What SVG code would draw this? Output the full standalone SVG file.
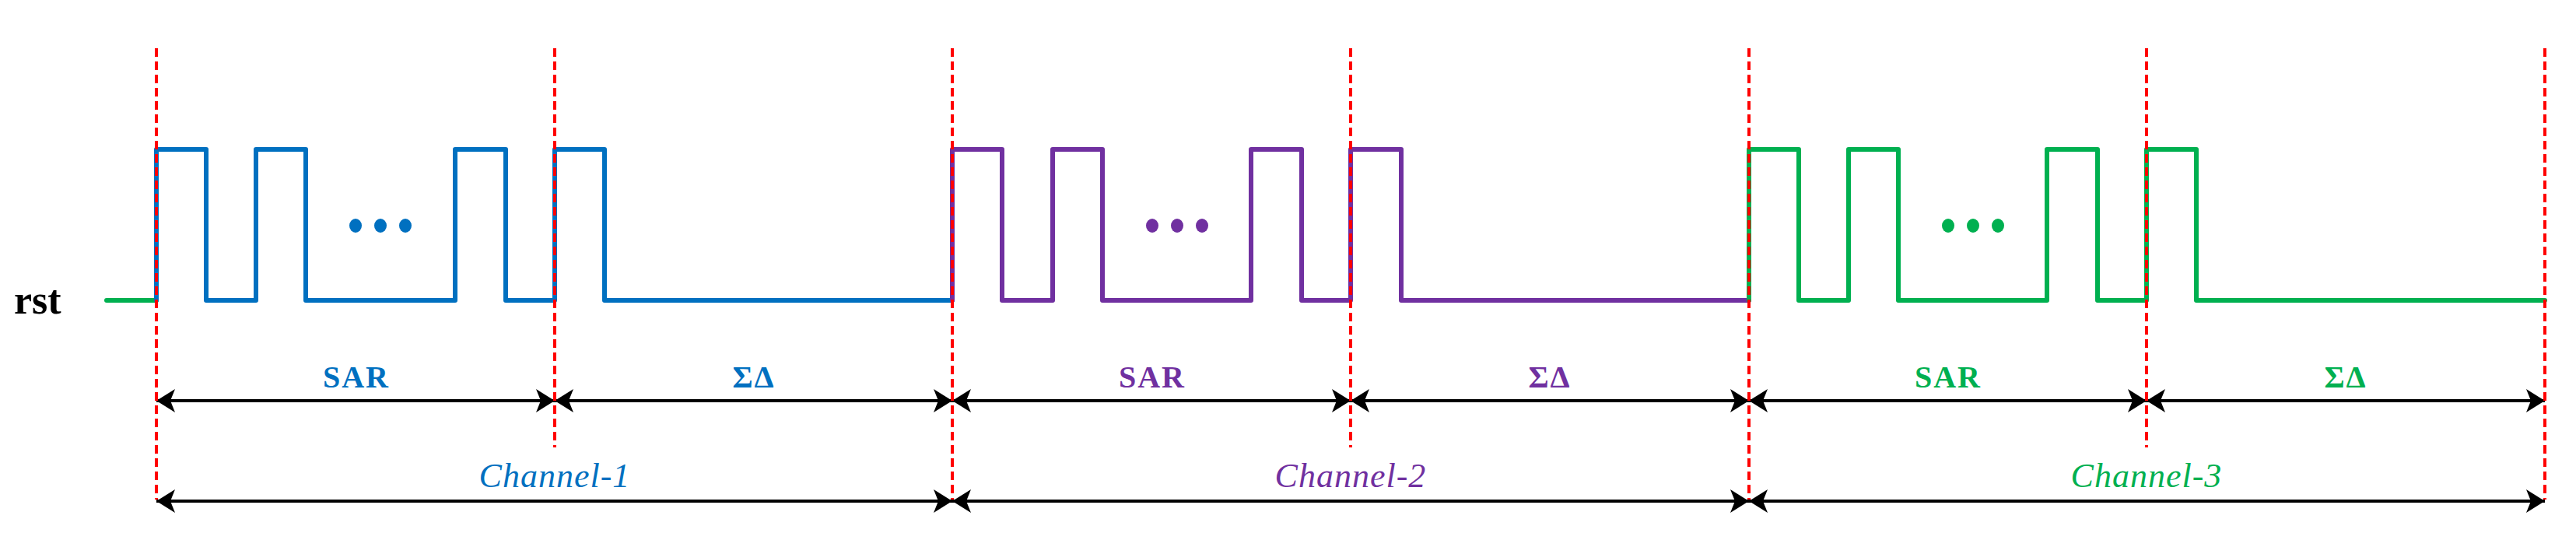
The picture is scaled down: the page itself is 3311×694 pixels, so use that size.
<svg xmlns="http://www.w3.org/2000/svg" width="3311" height="694" viewBox="0 0 3311 694">
<style>
.w{fill:none;stroke-width:6;stroke-linejoin:round;stroke-linecap:round}
.b{stroke:#0070C0}.p{stroke:#7030A0}.g{stroke:#00B050}
.red{stroke:#FF0000;stroke-width:4;stroke-dasharray:11 6;fill:none}
.ar{stroke:#000;stroke-width:4;fill:none;marker-start:url(#ah);marker-end:url(#ah)}
.lb{font-family:"Liberation Serif",serif;font-weight:bold;font-size:40px;text-anchor:middle;letter-spacing:2px}
.ch{font-family:"Liberation Serif",serif;font-style:italic;font-size:44px;text-anchor:middle;letter-spacing:1px}
</style>
<defs>
<marker id="ah" viewBox="0 0 24 30" refX="24" refY="15" markerWidth="24" markerHeight="30" markerUnits="userSpaceOnUse" orient="auto-start-reverse">
<path d="M0 0 L24 15 L0 30 L6 15 Z" fill="#000"/>
</marker>
</defs>
<rect width="3311" height="694" fill="#fff"/>
<text x="18" y="403" font-family="Liberation Serif,serif" font-weight="bold" font-size="52">rst</text>
<g id="connectors">
<line class="ar" x1="201" y1="515" x2="713" y2="515"/>
<line class="ar" x1="713" y1="515" x2="1224" y2="515"/>
<line class="ar" x1="1224" y1="515" x2="1736" y2="515"/>
<line class="ar" x1="1736" y1="515" x2="2248" y2="515"/>
<line class="ar" x1="2248" y1="515" x2="2759" y2="515"/>
<line class="ar" x1="2759" y1="515" x2="3271" y2="515"/>
<line class="ar" x1="201" y1="644" x2="1224" y2="644"/>
<line class="ar" x1="1224" y1="644" x2="2248" y2="644"/>
<line class="ar" x1="2248" y1="644" x2="3271" y2="644"/>
</g>
<g id="waves">
<path class="w g" d="M137 386 H201"/>
<path class="w b" d="M201 386 V192 H265 V386 H329 V192 H393 V386 H585 V192 H650 V386 H713 V192 H777 V386 H1224"/>
<path class="w p" d="M1224 386 V192 H1288 V386 H1353 V192 H1417 V386 H1608 V192 H1673 V386 H1736 V192 H1801 V386 H2248"/>
<path class="w g" d="M2248 386 V192 H2312 V386 H2376 V192 H2440 V386 H2631 V192 H2696 V386 H2759 V192 H2823 V386 H3271"/>
<g fill="#0070C0"><ellipse cx="457" cy="290" rx="8" ry="9"/><ellipse cx="489" cy="290" rx="8" ry="9"/><ellipse cx="521" cy="290" rx="8" ry="9"/></g>
<g fill="#7030A0"><ellipse cx="1481" cy="290" rx="8" ry="9"/><ellipse cx="1513" cy="290" rx="8" ry="9"/><ellipse cx="1545" cy="290" rx="8" ry="9"/></g>
<g fill="#00B050"><ellipse cx="2504" cy="290" rx="8" ry="9"/><ellipse cx="2536" cy="290" rx="8" ry="9"/><ellipse cx="2568" cy="290" rx="8" ry="9"/></g>
</g>
<g id="dividers">
<line class="red" x1="201" y1="62" x2="201" y2="642"/>
<line class="red" x1="713" y1="62" x2="713" y2="575"/>
<line class="red" x1="1224" y1="62" x2="1224" y2="642"/>
<line class="red" x1="1736" y1="62" x2="1736" y2="575"/>
<line class="red" x1="2248" y1="62" x2="2248" y2="642"/>
<line class="red" x1="2759" y1="62" x2="2759" y2="575"/>
<line class="red" x1="3271" y1="62" x2="3271" y2="642"/>
</g>
<g id="labels">
<text class="lb" x="458" y="498" fill="#0070C0">SAR</text>
<text class="lb" x="969" y="498" fill="#0070C0">ΣΔ</text>
<text class="ch" x="713" y="626" fill="#0070C0">Channel-1</text>
<text class="lb" x="1481" y="498" fill="#7030A0">SAR</text>
<text class="lb" x="1992" y="498" fill="#7030A0">ΣΔ</text>
<text class="ch" x="1736" y="626" fill="#7030A0">Channel-2</text>
<text class="lb" x="2504" y="498" fill="#00B050">SAR</text>
<text class="lb" x="3015" y="498" fill="#00B050">ΣΔ</text>
<text class="ch" x="2759" y="626" fill="#00B050">Channel-3</text>
</g>
</svg>
